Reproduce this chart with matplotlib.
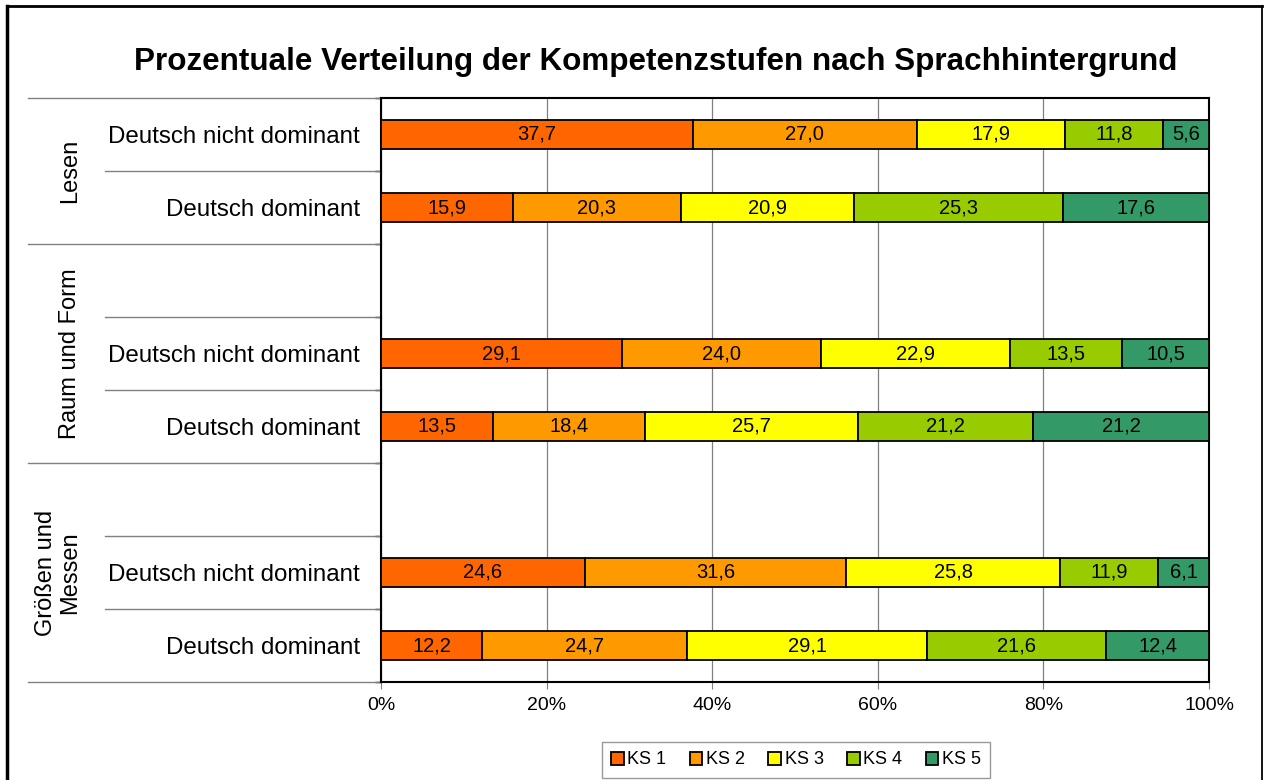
import matplotlib
matplotlib.use("Agg")
import matplotlib.pyplot as plt
from matplotlib.lines import Line2D
import numpy as np

plt.rcParams['font.family'] = ['Liberation Sans', 'DejaVu Sans']

# data: rows from top to bottom, one list per competence level
groups = ["Lesen", "Raum und Form", "Größen und\nMessen"]
row_labels = ["Deutsch nicht dominant", "Deutsch dominant"] * 3
levels = ["KS 1", "KS 2", "KS 3", "KS 4", "KS 5"]
ks1 = [37.7, 15.9, 29.1, 13.5, 24.6, 12.2]
ks2 = [27.0, 20.3, 24.0, 18.4, 31.6, 24.7]
ks3 = [17.9, 20.9, 22.9, 25.7, 25.8, 29.1]
ks4 = [11.8, 25.3, 13.5, 21.2, 11.9, 21.6]
ks5 = [5.6, 17.6, 10.5, 21.2, 6.1, 12.4]
colors = ["#FF6600", "#FF9900", "#FFFF00", "#99CC00", "#339966"]

# slot layout: Lesen has 2 slots, the other groups have an empty slot on top
slots = [0, 1, 3, 4, 6, 7]
group_bounds = [(0, 2), (2, 5), (5, 8)]
group_x = [70, 70, 58]
n_slots = 8
y = np.array(slots) + 0.5

fig = plt.figure(figsize=(12.65, 7.8), dpi=100)
ax = fig.add_axes([381 / 1265, 1 - 682 / 780, 828 / 1265, 584 / 780])

left = np.zeros(len(slots))
for vals, col, lab in zip([ks1, ks2, ks3, ks4, ks5], colors, levels):
    vals = np.array(vals)
    ax.barh(y, vals, left=left, height=0.41, color=col, edgecolor="black",
            linewidth=1.3, label=lab, zorder=3)
    for yi, l, v in zip(y, left, vals):
        ax.text(l + v / 2, yi, f"{v:.1f}".replace(".", ","), ha="center",
                va="center", fontsize=14.5, zorder=4)
    left += vals

ax.set_xlim(0, 100)
ax.set_ylim(n_slots, 0)
ax.set_xticks(range(0, 101, 20))
ax.set_xticklabels([f"{t}%" for t in range(0, 101, 20)], fontsize=14)
ax.tick_params(axis="x", length=5, color="#808080", pad=6)
ax.xaxis.grid(True, color="#808080", linewidth=0.9, zorder=0)

ax.set_yticks(y)
ax.set_yticklabels(row_labels, fontsize=17.4)
ax.tick_params(axis="y", which="major", length=0, pad=15)
ax.set_yticks(range(n_slots + 1), minor=True)
ax.tick_params(axis="y", which="minor", length=4, color="black", width=1)

for s in ax.spines.values():
    s.set_linewidth(1.5)
    s.set_color("black")

# separators in the label area: long ones between groups, short ones between rows
trans = ax.get_yaxis_transform()
for b in range(n_slots + 1):
    if b in (0, 2, 5, 8):
        x0 = (28 - 381) / 828
    else:
        x0 = (105 - 381) / 828
    ax.add_line(Line2D([x0, 0], [b, b], transform=trans, color="#808080",
                       linewidth=1.0, clip_on=False))

# group labels
for g, (a, b), gx in zip(groups, group_bounds, group_x):
    ax.text((gx - 381) / 828, (a + b) / 2, g, transform=trans, rotation=90,
            ha="center", va="center", fontsize=17, linespacing=1.15)

ax.legend(loc="center", bbox_to_anchor=(796 / 1265, 1 - 760 / 780),
          bbox_transform=fig.transFigure, ncol=5, fontsize=13, frameon=True,
          fancybox=False, edgecolor="#808080", handlelength=0.7,
          handleheight=0.7, handletextpad=0.2, columnspacing=1.3,
          borderpad=0.5)

fig.text(656 / 1265, 1 - 62 / 780,
         "Prozentuale Verteilung der Kompetenzstufen nach Sprachhintergrund",
         ha="center", va="center", fontsize=22.6, fontweight="bold")

# outer frame of the chart area
fig.add_artist(Line2D([7 / 1265, 7 / 1265], [0, 1 - 6 / 780], color="black",
                      linewidth=2.5))
fig.add_artist(Line2D([7 / 1265, 1262 / 1265], [1 - 6 / 780, 1 - 6 / 780],
                      color="black", linewidth=2))
fig.add_artist(Line2D([1262 / 1265, 1262 / 1265], [0, 1 - 6 / 780],
                      color="black", linewidth=1.3))

fig.savefig("out.png", dpi=100)
